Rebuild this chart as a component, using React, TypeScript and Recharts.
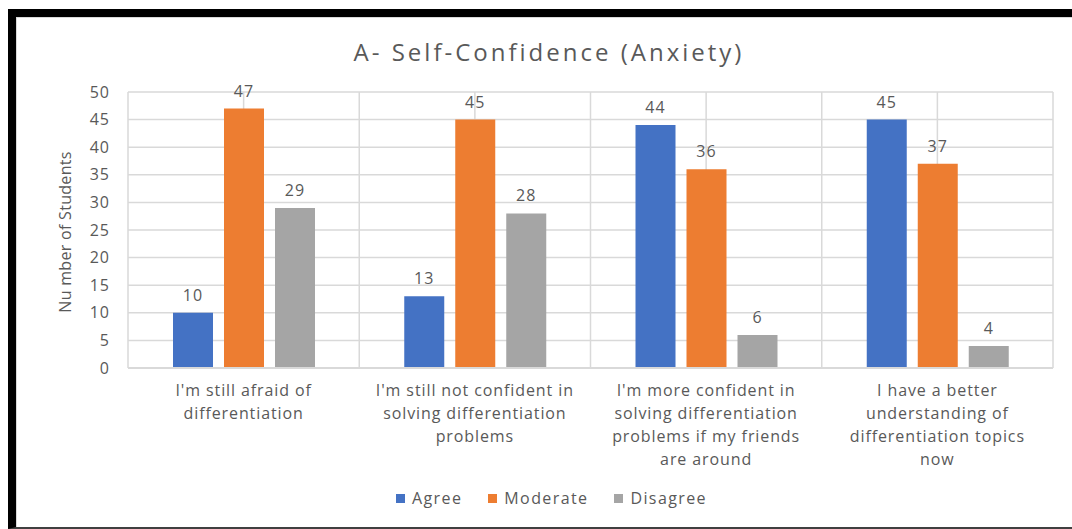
import React from 'react';
import { BarChart, Bar, XAxis, YAxis, CartesianGrid, Legend, LabelList, Label } from 'recharts';

// Survey statements; "\n" marks where each label wraps under the axis
const statements = [
  "I'm still afraid of\ndifferentiation",
  "I'm still not confident in\nsolving differentiation\nproblems",
  "I'm more confident in\nsolving differentiation\nproblems if my friends\nare around",
  'I have a better\nunderstanding of\ndifferentiation topics\nnow',
];

const agree = [10, 13, 44, 45];
const moderate = [47, 45, 36, 37];
const disagree = [29, 28, 6, 4];

const yTicks = [0, 5, 10, 15, 20, 25, 30, 35, 40, 45, 50];

const data = statements.map((statement, i) => ({
  statement,
  Agree: agree[i],
  Moderate: moderate[i],
  Disagree: disagree[i],
}));

const FONT = '"Open Sans", sans-serif';
const TEXT = '#595959';
const GRID = '#d9d9d9';

const series = [
  { key: 'Agree', color: '#4472C4' },
  { key: 'Moderate', color: '#ED7D31' },
  { key: 'Disagree', color: '#A5A5A5' },
];

const CategoryTick = (props: any) => {
  const { x, y, payload } = props;
  const lines = String(payload.value).split('\n');
  return (
    <text x={x} y={y} textAnchor="middle" fill={TEXT} fontSize={16} fontFamily={FONT} letterSpacing={0.9}>
      {lines.map((line, i) => (
        <tspan key={i} x={x} dy={i === 0 ? 28 : 23}>
          {line}
        </tspan>
      ))}
    </text>
  );
};

const LegendContent = () => (
  <div
    style={{
      display: 'flex',
      justifyContent: 'center',
      alignItems: 'center',
      gap: 26,
      paddingLeft: 22,
      fontFamily: FONT,
      fontSize: 16,
      letterSpacing: 1.4,
      color: TEXT,
    }}
  >
    {series.map((s) => (
      <span key={s.key} style={{ display: 'flex', alignItems: 'center' }}>
        <span style={{ width: 9, height: 9, background: s.color, marginRight: 7 }} />
        {s.key}
      </span>
    ))}
  </div>
);

const YTitle = (props: any) => {
  const { viewBox } = props;
  const cx = 49;
  const cy = viewBox.y + viewBox.height / 2 + 2;
  return (
    <text
      x={cx}
      y={cy}
      transform={`rotate(-90, ${cx}, ${cy})`}
      textAnchor="middle"
      dominantBaseline="central"
      fill={TEXT}
      fontSize={16}
      fontFamily={FONT}
      letterSpacing={0.3}
    >
      Nu mber of Students
    </text>
  );
};

export default function App() {
  return (
    <div
      style={{
        position: 'absolute',
        left: 8,
        top: 9,
        width: 1064,
        height: 520,
        boxSizing: 'border-box',
        borderTop: '8px solid #000',
        borderLeft: '8px solid #000',
        borderBottom: '2px solid #404040',
        background: '#fff',
      }}
    >
      <div
        style={{
          position: 'absolute',
          inset: 0,
          borderTop: `1px solid ${GRID}`,
          borderLeft: `1px solid ${GRID}`,
        }}
      />
      <div
        style={{
          position: 'absolute',
          left: 5,
          width: 1064 - 8,
          top: 20,
          textAlign: 'center',
          fontFamily: FONT,
          fontSize: 24,
          letterSpacing: 3,
          color: TEXT,
          lineHeight: '30px',
        }}
      >
        A- Self-Confidence (Anxiety)
      </div>
      <div style={{ position: 'absolute', left: 0, top: 1 }}>
        <BarChart
          width={1056}
          height={509}
          data={data}
          barSize={40}
          barGap={11}
          margin={{ top: 74, right: 19, bottom: 10, left: 12 }}
        >
          <CartesianGrid
            stroke={GRID}
            strokeWidth={1.5}
            verticalCoordinatesGenerator={({ offset }: any) =>
              Array.from({ length: 9 }, (_, i) => offset.left + (i * offset.width) / 8)
            }
          />
          <XAxis
            dataKey="statement"
            interval={0}
            height={119}
            axisLine={{ stroke: GRID, strokeWidth: 2 }}
            tickLine={false}
            tickSize={0}
            tickMargin={0}
            tick={<CategoryTick />}
          />
          <YAxis
            domain={[0, 50]}
            ticks={yTicks}
            width={100}
            axisLine={false}
            tickLine={false}
            tickSize={0}
            tickMargin={18}
            tick={{ fill: TEXT, fontSize: 16, fontFamily: FONT, letterSpacing: 1 }}
          >
            <Label content={<YTitle />} />
          </YAxis>
          <Legend verticalAlign="bottom" wrapperStyle={{ height: 30 }} content={<LegendContent />} />
          {series.map((s) => (
            <Bar key={s.key} dataKey={s.key} fill={s.color} isAnimationActive={false}>
              <LabelList
                dataKey={s.key}
                position="top"
                offset={12}
                fill={TEXT}
                fontSize={16}
                fontFamily={FONT}
                letterSpacing={1}
              />
            </Bar>
          ))}
        </BarChart>
      </div>
    </div>
  );
}
